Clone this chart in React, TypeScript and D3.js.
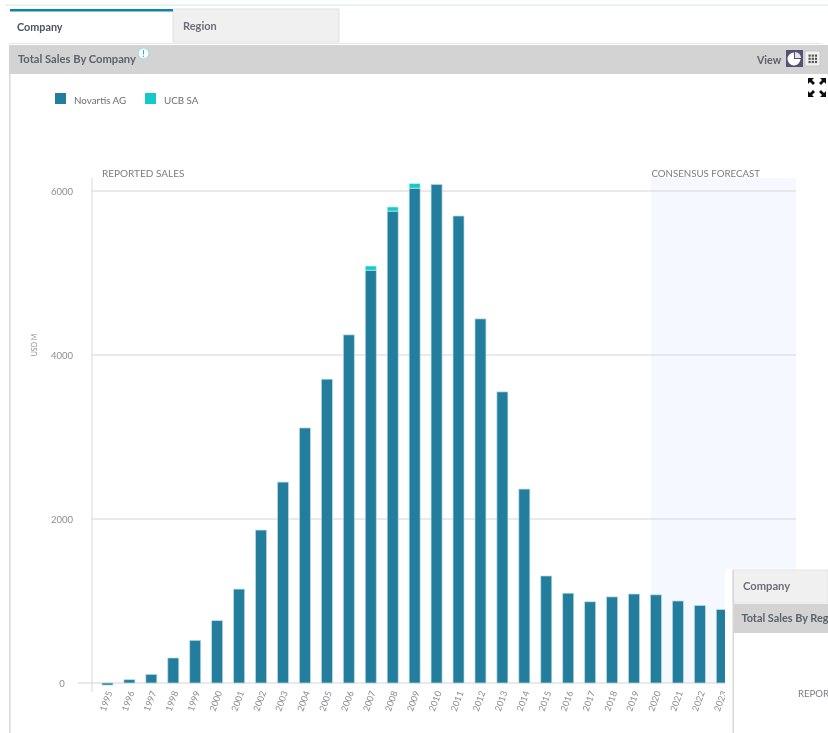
import React from "react";
import * as d3 from "d3";

const years = ["1995","1996","1997","1998","1999","2000","2001","2002","2003","2004","2005","2006","2007","2008","2009","2010","2011","2012","2013","2014","2015","2016","2017","2018","2019","2020","2021","2022","2023"];
const domainYears = [...years, "2024", "2025", "2026"];
const novartis = [-25,40,105,305,520,760,1145,1865,2450,3110,3705,4245,5035,5755,6035,6080,5695,4440,3550,2365,1305,1095,990,1050,1085,1075,1000,945,895];
const ucb = [0,0,0,0,0,0,0,0,0,0,0,0,50,50,55,0,0,0,0,0,0,0,0,0,0,0,0,0,0];
const yTicks = [0,2000,4000,6000];
const legendItems = [{ name: "Novartis AG", color: "#237e9c" }, { name: "UCB SA", color: "#12c9c9" }];

const FONT = "Lato, 'Noto Sans', sans-serif";
const x = d3.scaleBand<string>().domain(domainYears).range([96.5, 798.6]).paddingInner(0.5).paddingOuter(0.25);
const y = d3.scaleLinear().domain([0, 6000]).range([683, 191]);

const arrowPath = "M0 0H6L4 2L7 5L5 7L2 4L0 6Z";

export default function App() {
  const piePath = d3.arc()({ innerRadius: 0, outerRadius: 6.5, startAngle: Math.PI / 2, endAngle: Math.PI * 2 }) as string;
  const slicePath = d3.arc()({ innerRadius: 0, outerRadius: 6, startAngle: 0, endAngle: Math.PI / 2 }) as string;
  return (
    <svg width={828} height={733} style={{ position: "absolute", left: 0, top: 0, fontFamily: FONT }}>
      <defs>
        <filter id="soft" x="0" y="0" width="100%" height="100%">
          <feGaussianBlur stdDeviation="0.35" />
        </filter>
      </defs>
      <rect width={828} height={733} fill="#fff" />
      <g filter="url(#soft)">
      <rect x={5} y={4.5} width={823} height={1.5} fill="#dff2ee" />

      {/* tabs */}
      <rect x={173} y={9} width={166} height={33} fill="#f0f0f0" stroke="#e2e2e2" />
      <rect x={10} y={9} width={163} height={2.5} fill="#0f84a8" />
      <text x={17} y={31} fontSize={10.8} fontWeight={700} fill="#4e5560">Company</text>
      <text x={183} y={30} fontSize={11} fontWeight={700} fill="#6a6f78">Region</text>
      <rect x={9} y={43} width={812} height={1} fill="#e6e6e6" />

      {/* header */}
      <rect x={9} y={45} width={819} height={29} fill="#d3d3d3" />
      <text x={18} y={63} fontSize={11.2} fontWeight={700} fill="#5b626b">Total Sales By Company</text>
      <circle cx={143.5} cy={53.5} r={5.5} fill="#fff" stroke="#9adcec" strokeWidth={1.2} />
      <text x={143.5} y={57} fontSize={9} fontWeight={700} fill="#3aa9cc" textAnchor="middle">!</text>
      <text x={757} y={64} fontSize={10.6} fontWeight={700} fill="#5b626b">View</text>
      <rect x={786} y={50} width={17} height={17} fill="#55516f" />
      <path d={piePath} transform="translate(794,59)" fill="#fff" />
      <path d={slicePath} transform="translate(795,58)" fill="#e4e4ee" />
      <rect x={805} y={51} width={15} height={15} fill="#f2f2f2" stroke="#c8c8c8" />
      {d3.range(3).flatMap((r) => d3.range(3).map((c) => (
        <rect key={`${r}-${c}`} x={808.5 + c * 3.2} y={54.5 + r * 3.2} width={2.2} height={2.2} fill="#555" />
      )))}

      <rect x={9} y={74} width={1.5} height={659} fill="#d8d8d8" />

      {/* expand icon */}
      <path d={arrowPath} transform="translate(808,78)" fill="#111" />
      <path d={arrowPath} transform="translate(826,78) scale(-1,1)" fill="#111" />
      <path d={arrowPath} transform="translate(808,97) scale(1,-1)" fill="#111" />
      <path d={arrowPath} transform="translate(826,97) scale(-1,-1)" fill="#111" />

      {/* legend */}
      {legendItems.map((it, i) => {
        const lx = [55, 145][i];
        return (
          <g key={it.name}>
            <rect x={lx} y={93} width={11} height={11} fill={it.color} />
            <text x={lx + 19} y={104} fontSize={9.8} fill="#6a6f78">{it.name}</text>
          </g>
        );
      })}

      {/* forecast band */}
      <rect x={651} y={178} width={145} height={505} fill="#f5f8fe" />

      {/* section labels */}
      <text x={102} y={177} fontSize={10} fill="#777c84">REPORTED SALES</text>
      <text x={651.5} y={177} fontSize={9.7} fill="#777c84">CONSENSUS FORECAST</text>

      {/* axes + grid */}
      <line x1={92} x2={92} y1={178} y2={692} stroke="#d8d8d8" strokeWidth={1} />
      {yTicks.map((t) => (
        <g key={t}>
          <line x1={t === 0 ? 78 : 92} x2={796} y1={y(t)} y2={y(t)} stroke="#d4d4d4" strokeWidth={1} />
          <text x={62} y={y(t) + 3.5} fontSize={9.5} fill="#8a8d92" textAnchor="middle">{t}</text>
        </g>
      ))}
      <text transform="translate(37,345) rotate(-90)" fontSize={7} fill="#8a8d92" textAnchor="middle">USD M</text>

      {/* bars */}
      {years.map((yr, i) => {
        const bx = x(yr)!;
        const w = x.bandwidth();
        const v = novartis[i];
        const top = y(Math.max(v, 0));
        const h = Math.abs(y(v) - y(0));
        return (
          <g key={yr}>
            <rect x={bx} y={top} width={w} height={h} fill="#237e9c" stroke="#bcd9e4" strokeWidth={0.7} />
            {ucb[i] > 0 && (
              <rect x={bx} y={y(v + ucb[i])} width={w} height={y(v) - y(v + ucb[i])} fill="#12c9c9" stroke="#c4f0f0" strokeWidth={0.7} />
            )}
            <text
              transform={`translate(${bx + w / 2 - 2},${712}) rotate(-70)`}
              fontSize={9}
              fill="#84888e"
            >{yr}</text>
          </g>
        );
      })}

      {/* overlapping panel */}
      <rect x={725} y={569} width={103} height={164} fill="#fff" />
      <rect x={733} y={570} width={95} height={33} fill="#f0f0f0" stroke="#e4e4e4" />
      <rect x={733} y={604} width={95} height={29} fill="#d3d3d3" />
      <rect x={732.5} y={570} width={1.5} height={163} fill="#d8d8d8" />
      <text x={743} y={590} fontSize={11.2} fontWeight={700} fill="#6a6f78">Company</text>
      <text x={741.5} y={622} fontSize={10.9} fontWeight={700} fill="#5b626b">Total Sales By Reg</text>
      <text x={798} y={697} fontSize={9.6} fill="#777c84">REPOR</text>
      </g>
    </svg>
  );
}
